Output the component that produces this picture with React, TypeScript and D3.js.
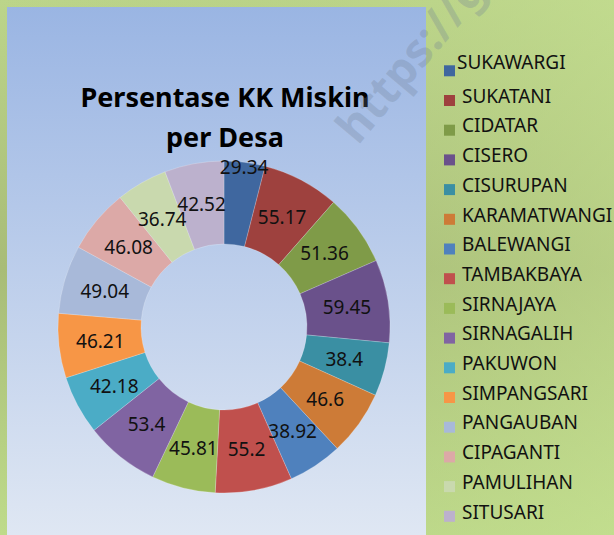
import React from "react";
import * as d3 from "d3";

const categories = [
  "SUKAWARGI", "SUKATANI", "CIDATAR", "CISERO", "CISURUPAN", "KARAMATWANGI",
  "BALEWANGI", "TAMBAKBAYA", "SIRNAJAYA", "SIRNAGALIH", "PAKUWON", "SIMPANGSARI",
  "PANGAUBAN", "CIPAGANTI", "PAMULIHAN", "SITUSARI",
];
const values = [
  29.34, 55.17, 51.36, 59.45, 38.4, 46.6, 38.92, 55.2,
  45.81, 53.4, 42.18, 46.21, 49.04, 46.08, 36.74, 42.52,
];
const labels = [
  "29.34", "55.17", "51.36", "59.45", "38.4", "46.6", "38.92", "55.2",
  "45.81", "53.4", "42.18", "46.21", "49.04", "46.08", "36.74", "42.52",
];
const colors = [
  "#3f679f", "#9e413e", "#7f9b48", "#6a518b", "#3a8fa3", "#cd7b37",
  "#4f81bd", "#c0504d", "#9bbb59", "#8064a2", "#4bacc6", "#f79646",
  "#a8b9d9", "#dca9a7", "#c9d9ae", "#bcb1cd",
];
const titleLines = ["Persentase KK Miskin", "per Desa"];

const W = 614, H = 535;
const cx = 224, cy = 327, rOuter = 166, rInner = 83;

export default function App() {
  const pie = d3.pie<number>().sort(null).value((d) => d)(values);
  const arc = d3.arc<d3.PieArcDatum<number>>().innerRadius(rInner).outerRadius(rOuter);
  const labelR = (rInner + rOuter) / 2;
  const legendY = d3.scaleLinear().domain([1, 15]).range([102.7, 518.5]);
  const font = "'Noto Sans', 'Open Sans', sans-serif";

  return (
    <svg width={W} height={H} style={{ position: "absolute", left: 0, top: 0 }}>
      <defs>
        <linearGradient id="outerBg" x1="0" y1="0" x2="0" y2="1">
          <stop offset="0" stopColor="#bcd58a" />
          <stop offset="0.5" stopColor="#a8bc77" />
          <stop offset="1" stopColor="#bedb8a" />
        </linearGradient>
        <linearGradient id="outerBgH" x1="0" y1="0" x2="1" y2="0">
          <stop offset="0" stopColor="#a4b975" stopOpacity="0" />
          <stop offset="1" stopColor="#c6e092" stopOpacity="0.5" />
        </linearGradient>
        <linearGradient id="panelBg" x1="0" y1="0" x2="0" y2="1">
          <stop offset="0" stopColor="#9ab5e3" />
          <stop offset="1" stopColor="#dfe7f3" />
        </linearGradient>
      </defs>
      <rect x={0} y={0} width={W} height={H} fill="url(#outerBg)" />
      <rect x={0} y={0} width={W} height={H} fill="url(#outerBgH)" />
      <rect x={7} y={7} width={419} height={H - 7} fill="url(#panelBg)" />

      <g transform={`translate(${cx},${cy})`}>
        {pie.map((p, i) => (
          <path key={i} d={arc(p) || ""} fill={colors[i]} stroke="#ffffff" strokeOpacity={0.35} strokeWidth={0.6} />
        ))}
        {pie.map((p, i) => {
          const mid = (p.startAngle + p.endAngle) / 2;
          const span = p.endAngle - p.startAngle;
          const r = span < 0.26 ? rOuter - 5 : labelR;
          const x = r * Math.sin(mid);
          const y = -r * Math.cos(mid);
          return (
            <text key={i} x={x} y={y} dy="0.36em" textAnchor="middle" fontFamily={font} fontSize={19} fill="#111">
              {labels[i]}
            </text>
          );
        })}
      </g>

      <g fontFamily={font} fontWeight="bold" fontSize={27} fill="#000" textAnchor="middle">
        {titleLines.map((t, i) => (
          <text key={i} x={225} y={107 + i * 40}>{t}</text>
        ))}
      </g>

      <text x={0} y={0} transform="translate(358,146) rotate(-50)" fontFamily={font} fontWeight="bold" fontSize={46}
        fill="#6f7f96" fillOpacity={0.28}>https://g</text>

      <g fontFamily={font} fontSize={19} fill="#111">
        {categories.map((c, i) => {
          const by = i === 0 ? legendY(0) : legendY(i);
          const ty = i === 0 ? by - 4.5 : by;
          const tx = i === 0 ? 457 : 462;
          return (
            <g key={c}>
              <rect x={444} y={by - 7.7} width={11} height={11} fill={colors[i]} />
              <text x={tx} y={ty}>{c}</text>
            </g>
          );
        })}
      </g>
    </svg>
  );
}
